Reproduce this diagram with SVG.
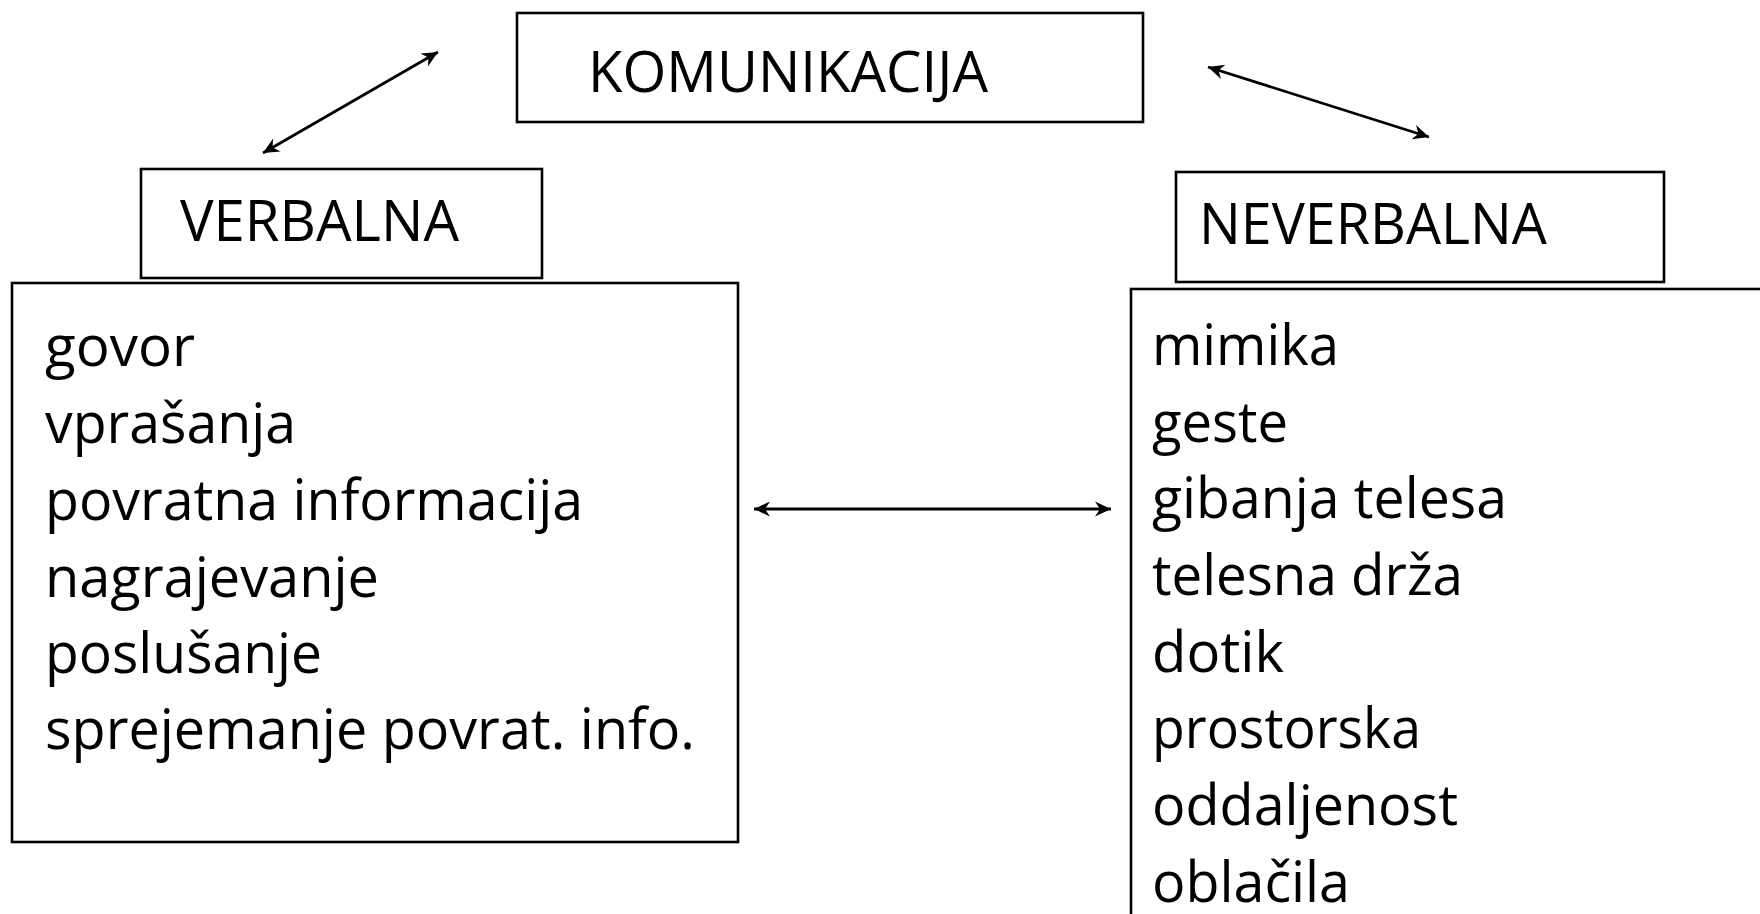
<svg xmlns="http://www.w3.org/2000/svg" width="1760" height="914" viewBox="0 0 1760 914">
<style>
.box{fill:#fff;stroke:#000;stroke-width:2.6}
.t{font-family:"Open Sans","Noto Sans","Liberation Sans",sans-serif;font-size:57px;fill:#000}
.c{stroke:#000;stroke-width:2.8;fill:none;marker-start:url(#ah);marker-end:url(#ah)}
</style>
<defs>
<marker id="ah" markerUnits="userSpaceOnUse" markerWidth="20" markerHeight="20" viewBox="-18 -9 20 18" refX="0" refY="0" orient="auto-start-reverse">
<path d="M0,0 L-16,-7.5 L-11,0 L-16,7.5 Z" fill="#000"/>
</marker>
</defs>
<rect width="1760" height="914" fill="#fff"/>
<g id="komunikacija">
<rect class="box" x="517" y="13" width="626" height="109"/>
<text class="t" x="588" y="92" textLength="400" lengthAdjust="spacingAndGlyphs">KOMUNIKACIJA</text>
</g>
<g id="verbalna">
<rect class="box" x="141" y="169" width="401" height="109"/>
<text class="t" x="180" y="241" textLength="279" lengthAdjust="spacingAndGlyphs">VERBALNA</text>
</g>
<g id="neverbalna">
<rect class="box" x="1176" y="172" width="488" height="110"/>
<text class="t" x="1199" y="244" textLength="348" lengthAdjust="spacingAndGlyphs">NEVERBALNA</text>
</g>
<g id="verbalna-seznam">
<rect class="box" x="12" y="283" width="726" height="559"/>
<text class="t" x="45" y="366" textLength="150" lengthAdjust="spacingAndGlyphs">govor</text>
<text class="t" x="45" y="443" textLength="251" lengthAdjust="spacingAndGlyphs">vprašanja</text>
<text class="t" x="45" y="520" textLength="538" lengthAdjust="spacingAndGlyphs">povratna informacija</text>
<text class="t" x="45" y="597" textLength="334" lengthAdjust="spacingAndGlyphs">nagrajevanje</text>
<text class="t" x="45" y="673" textLength="277" lengthAdjust="spacingAndGlyphs">poslušanje</text>
<text class="t" x="45" y="749" textLength="650" lengthAdjust="spacingAndGlyphs">sprejemanje povrat. info.</text>
</g>
<g id="neverbalna-seznam">
<rect class="box" x="1131" y="289" width="700" height="700"/>
<text class="t" x="1152" y="365" textLength="187" lengthAdjust="spacingAndGlyphs">mimika</text>
<text class="t" x="1152" y="442" textLength="136" lengthAdjust="spacingAndGlyphs">geste</text>
<text class="t" x="1152" y="518" textLength="355" lengthAdjust="spacingAndGlyphs">gibanja telesa</text>
<text class="t" x="1152" y="595" textLength="311" lengthAdjust="spacingAndGlyphs">telesna drža</text>
<text class="t" x="1152" y="672" textLength="132" lengthAdjust="spacingAndGlyphs">dotik</text>
<text class="t" x="1152" y="748" textLength="269" lengthAdjust="spacingAndGlyphs">prostorska</text>
<text class="t" x="1152" y="825" textLength="306" lengthAdjust="spacingAndGlyphs">oddaljenost</text>
<text class="t" x="1152" y="902" textLength="198" lengthAdjust="spacingAndGlyphs">oblačila</text>
</g>
<g id="connectors">
<line class="c" x1="438" y1="52" x2="263" y2="153"/>
<line class="c" x1="1208" y1="67" x2="1429" y2="137"/>
<line class="c" x1="754" y1="509" x2="1111" y2="509"/>
</g>
</svg>
